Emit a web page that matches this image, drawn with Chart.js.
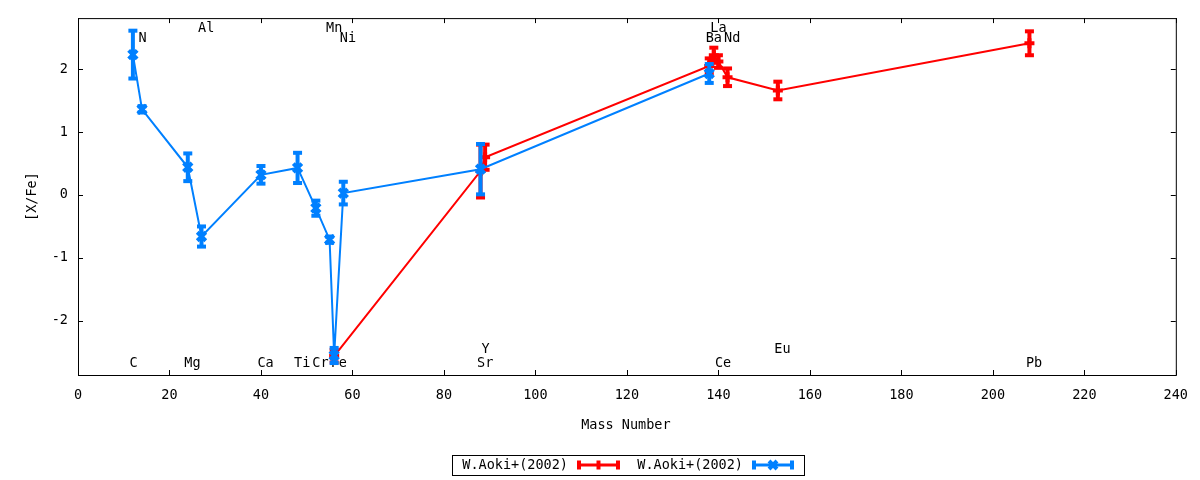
<!DOCTYPE html>
<html>
<head>
<meta charset="utf-8">
<script src="https://cdn.jsdelivr.net/npm/chart.js@4.4.0/dist/chart.umd.min.js"></script>
<style>
  html, body { margin: 0; padding: 0; background: #fff; }
</style>
</head>
<body>
<canvas id="abundChart" width="1200" height="480"></canvas>
<script>
// W.Aoki+(2002), first set (red)
let redMass = [56, 88, 89, 138, 139, 140, 142, 153, 208];
let redVal  = [-2.56, 0.38, 0.60, 2.05, 2.22, 2.12, 1.87, 1.66, 2.41];
let redErr  = [0.10, 0.42, 0.20, 0.12, 0.12, 0.10, 0.14, 0.14, 0.19];

// W.Aoki+(2002), second set (blue)
let blueMass = [12, 14, 24, 27, 40, 48, 52, 55, 56, 58, 88, 138];
let blueVal  = [2.23, 1.36, 0.44, -0.66, 0.32, 0.43, -0.21, -0.71, -2.55, 0.03, 0.41, 1.93];
let blueErr  = [0.38, 0.05, 0.22, 0.16, 0.14, 0.24, 0.12, 0.05, 0.12, 0.18, 0.40, 0.15];

// element names written over the plot (mass, y level)
let elemNames = ["C", "N", "Mg", "Al", "Ca", "Ti", "Cr", "Mn", "Fe", "Ni", "Sr", "Y", "Ba", "La", "Ce", "Nd", "Eu", "Pb"];
let elemMass  = [12, 14, 24, 27, 40, 48, 52, 55, 56, 58, 88, 89, 138, 139, 140, 142, 153, 208];
let elemY     = [-2.68, 2.48, -2.68, 2.64, -2.68, -2.68, -2.68, 2.64, -2.68, 2.48, -2.68, -2.45, 2.48, 2.64, -2.68, 2.48, -2.45, -2.68];

let xTicks = [0, 20, 40, 60, 80, 100, 120, 140, 160, 180, 200, 220, 240];
let yTicks = [-2, -1, 0, 1, 2];
let seriesNames = ["W.Aoki+(2002)", "W.Aoki+(2002)"];

const monoFont = "'DejaVu Sans Mono', monospace";
const redColor = '#ff0000';
const blueColor = '#0080ff';

function toPoints(xs, ys) {
    return xs.map((m, i) => ({ x: m, y: ys[i] }));
}

// vertical error bars with caps, drawn right after each dataset
const errorBars = {
    id: 'errorBars',
    afterDatasetDraw(chart, args) {
        const ds = chart.data.datasets[args.index];
        const yScale = chart.scales.y;
        const c = chart.ctx;
        c.save();
        c.strokeStyle = ds.borderColor;
        c.fillStyle = ds.borderColor;
        c.lineWidth = 4;
        args.meta.data.forEach((pt, i) => {
            const v = ds.data[i].y;
            const e = ds.errors[i];
            const yTop = yScale.getPixelForValue(v + e);
            const yBot = yScale.getPixelForValue(v - e);
            c.beginPath();
            c.moveTo(pt.x, yTop);
            c.lineTo(pt.x, yBot);
            c.stroke();
            c.fillRect(pt.x - 4.5, yTop - 2, 9, 4);
            c.fillRect(pt.x - 4.5, yBot - 2, 9, 4);
        });
        c.restore();
    }
};

// element labels, under the data
const elemLabels = {
    id: 'elemLabels',
    beforeDatasetsDraw(chart) {
        const c = chart.ctx;
        const xs = chart.scales.x, ys = chart.scales.y;
        c.save();
        c.font = '13.5px ' + monoFont;
        c.fillStyle = '#000';
        c.textAlign = 'left';
        c.textBaseline = 'middle';
        elemNames.forEach((name, i) => {
            c.fillText(name, xs.getPixelForValue(elemMass[i]) - 3.5, ys.getPixelForValue(elemY[i]));
        });
        c.restore();
    }
};

// gnuplot-like frame: border, inward ticks, axis titles, boxed legend
const frame = {
    id: 'frame',
    afterDraw(chart) {
        const c = chart.ctx;
        const a = chart.chartArea;
        const xs = chart.scales.x, ys = chart.scales.y;
        c.save();
        c.strokeStyle = '#000';
        c.lineWidth = 1;
        c.strokeRect(a.left + 0.5, a.top + 0.5, a.right - a.left, a.bottom - a.top);
        c.beginPath();
        xTicks.forEach(v => {
            const px = Math.round(xs.getPixelForValue(v)) + 0.5;
            c.moveTo(px, a.bottom); c.lineTo(px, a.bottom - 5);
            c.moveTo(px, a.top); c.lineTo(px, a.top + 5);
        });
        yTicks.forEach(v => {
            const py = Math.round(ys.getPixelForValue(v)) + 0.5;
            c.moveTo(a.left, py); c.lineTo(a.left + 5, py);
            c.moveTo(a.right, py); c.lineTo(a.right - 5, py);
        });
        c.stroke();

        c.font = '13.5px ' + monoFont;
        c.fillStyle = '#000';
        c.textAlign = 'center';
        c.textBaseline = 'middle';
        c.fillText('Mass Number', (a.left + a.right) / 2 - 1, 425);
        c.save();
        c.translate(32, (a.top + a.bottom) / 2);
        c.rotate(-Math.PI / 2);
        c.fillText('[X/Fe]', 0, 0);
        c.restore();

        // legend
        const lx = 452, ly = 455, lw = 352, lh = 20, cy = ly + lh / 2;
        c.strokeRect(lx + 0.5, ly + 0.5, lw, lh);
        c.textAlign = 'right';
        const entries = [
            { text: seriesNames[0], color: redColor, x0: 577, x1: 620, style: 'cross' },
            { text: seriesNames[1], color: blueColor, x0: 752, x1: 794, style: 'crossRot' }
        ];
        entries.forEach(en => {
            c.fillStyle = '#000';
            c.fillText(en.text, en.x0 - 9, cy);
            c.strokeStyle = en.color;
            c.fillStyle = en.color;
            c.lineWidth = 3;
            c.beginPath();
            c.moveTo(en.x0, cy); c.lineTo(en.x1, cy);
            c.stroke();
            c.fillRect(en.x0, cy - 4.5, 4, 9);
            c.fillRect(en.x1 - 4, cy - 4.5, 4, 9);
            const mx = (en.x0 + en.x1) / 2;
            c.beginPath();
            c.lineWidth = 4;
            if (en.style === 'cross') {
                c.moveTo(mx, cy - 4.5); c.lineTo(mx, cy + 4.5);
            } else {
                c.moveTo(mx - 4, cy - 4); c.lineTo(mx + 4, cy + 4);
                c.moveTo(mx + 4, cy - 4); c.lineTo(mx - 4, cy + 4);
            }
            c.stroke();
        });
        c.restore();
    }
};

let ctx = document.getElementById('abundChart').getContext('2d');
let abundChart = new Chart(ctx, {
    type: 'line',
    data: {
        datasets: [
            {
                label: seriesNames[0],
                data: toPoints(redMass, redVal),
                errors: redErr,
                borderColor: redColor,
                backgroundColor: redColor,
                borderWidth: 2,
                pointStyle: 'cross',
                pointRadius: 5,
                pointBorderWidth: 4,
                tension: 0,
                order: 2
            },
            {
                label: seriesNames[1],
                data: toPoints(blueMass, blueVal),
                errors: blueErr,
                borderColor: blueColor,
                backgroundColor: blueColor,
                borderWidth: 2,
                pointStyle: 'crossRot',
                pointRadius: 6,
                pointBorderWidth: 4,
                tension: 0,
                order: 1
            }
        ]
    },
    options: {
        responsive: false,
        animation: false,
        layout: { padding: { left: 0, top: 17, right: 23, bottom: 0 } },
        plugins: {
            legend: { display: false },
            tooltip: { enabled: false }
        },
        scales: {
            x: {
                type: 'linear',
                min: 0,
                max: 240,
                afterBuildTicks: s => { s.ticks = xTicks.map(v => ({ value: v })); },
                afterFit: s => { s.height = 105; },
                grid: { display: false, drawTicks: false },
                border: { display: false },
                ticks: {
                    padding: 12,
                    color: '#000',
                    maxRotation: 0,
                    autoSkip: false,
                    font: { family: monoFont, size: 13.5 }
                }
            },
            y: {
                type: 'linear',
                min: -2.86,
                max: 2.81,
                afterBuildTicks: s => { s.ticks = yTicks.map(v => ({ value: v })); },
                afterFit: s => { s.width = 78; },
                grid: { display: false, drawTicks: false },
                border: { display: false },
                ticks: {
                    padding: 10,
                    color: '#000',
                    font: { family: monoFont, size: 13.5 }
                }
            }
        }
    },
    plugins: [errorBars, elemLabels, frame]
});
</script>
</body>
</html>
